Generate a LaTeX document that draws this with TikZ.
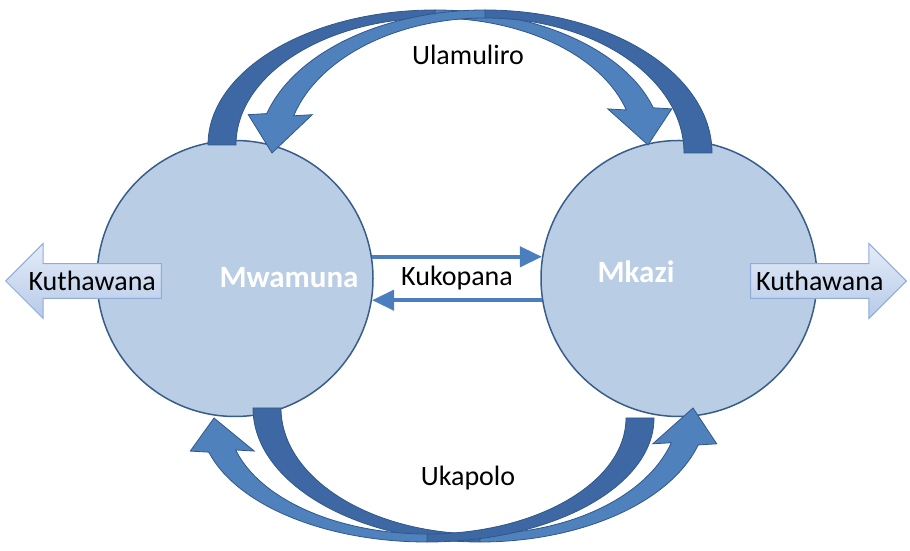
\documentclass[tikz,border=0pt]{standalone}
\usepackage{fontspec}
\setmainfont{Carlito}
\usetikzlibrary{shapes.arrows,arrows.meta,calc}

\definecolor{bandDark}{HTML}{3D68A3}
\definecolor{bandLight}{HTML}{4F81BD}
\definecolor{bandLine}{HTML}{30578A}
\definecolor{circFill}{HTML}{B9CDE5}
\definecolor{circLine}{HTML}{385D8A}
\definecolor{exitTop}{HTML}{E4ECF8}
\definecolor{exitBot}{HTML}{B6CAE8}
\definecolor{exitLine}{HTML}{8FACD8}
\definecolor{linkBlue}{HTML}{4A7EBF}

\begin{document}
\begin{tikzpicture}[x=1pt,y=1pt,
    person/.style={circle,draw=circLine,line width=1.5pt,fill=circFill,minimum size=276pt,inner sep=0pt},
    persontext/.style={text=white,font=\fontsize{31}{36}\selectfont\bfseries},
    arclabel/.style={font=\fontsize{28}{33}\selectfont},
    exit/.style={single arrow,draw=exitLine,line width=1pt,top color=exitTop,bottom color=exitBot,
      single arrow head extend=20pt,single arrow tip angle=90,inner xsep=5pt,inner ysep=7pt,
      font=\fontsize{28}{33}\selectfont},
    link/.style={draw=linkBlue,line width=4pt,-{Triangle[length=22pt,width=20pt]}},
    bandback/.style={fill=bandDark,draw=bandLine,line width=0.8pt},
    bandfront/.style={fill=bandLight,draw=bandLine,line width=0.8pt}]
  \useasboundingbox (0,0) rectangle (910,551);

  % the two partners
  \node[person] (mwamuna) at (235,272.5) {};
  \node[person] (mkazi) at (679,272.5) {};

  % curved bands: centre x / centre y / mirror x / mirror y / y radius
  \foreach \cx/\cy/\sx/\sy/\ry in {435/406/1/1/131, 485/398/-1/1/139, 480/143/1/-1/130, 427/133/-1/-1/120}
  {
    \pgfmathsetmacro\ro{\ry+4}
    \pgfmathsetmacro\ri{\ry-4}
    \begin{scope}[shift={(\cx,\cy)},xscale=\sx,yscale=\sy]
      \draw[bandback] (180:227 and \ro) arc[start angle=180,end angle=90,x radius=227,y radius=\ro]
        -- (90:199 and \ri) arc[start angle=90,end angle=180,x radius=199,y radius=\ri] -- cycle;
      \draw[bandfront] (90:227 and \ro) arc[start angle=90,end angle=16,x radius=227,y radius=\ro]
        -- ({213*cos(16)+32},{\ry*sin(16)}) -- (213,0) -- ({213*cos(16)-32},{\ry*sin(16)})
        -- (16:199 and \ri) arc[start angle=16,end angle=90,x radius=199,y radius=\ri] -- cycle;
    \end{scope}
  }

  % leaving
  \node[exit,shape border rotate=180,anchor=tip] (exitL) at (5,270) {Kuthawana};
  \node[exit,anchor=tip] (exitR) at (907,270) {Kuthawana};

  % between them
  \draw[link] (mwamuna.9) -- (mkazi.171);
  \draw[link] (mkazi.189) -- (mwamuna.351);

  \node[arclabel] (kukopana) at ($(mwamuna)!0.5!(mkazi)$) {Kukopana};
  \node[arclabel] (ulamuliro) at (468,496) {Ulamuliro};
  \node[arclabel] (ukapolo) at (468,73) {Ukapolo};
  \node[persontext] (mwamunatext) at (289,273) {Mwamuna};
  \node[persontext] (mkazitext) at (636,279) {Mkazi};
\end{tikzpicture}
\end{document}
